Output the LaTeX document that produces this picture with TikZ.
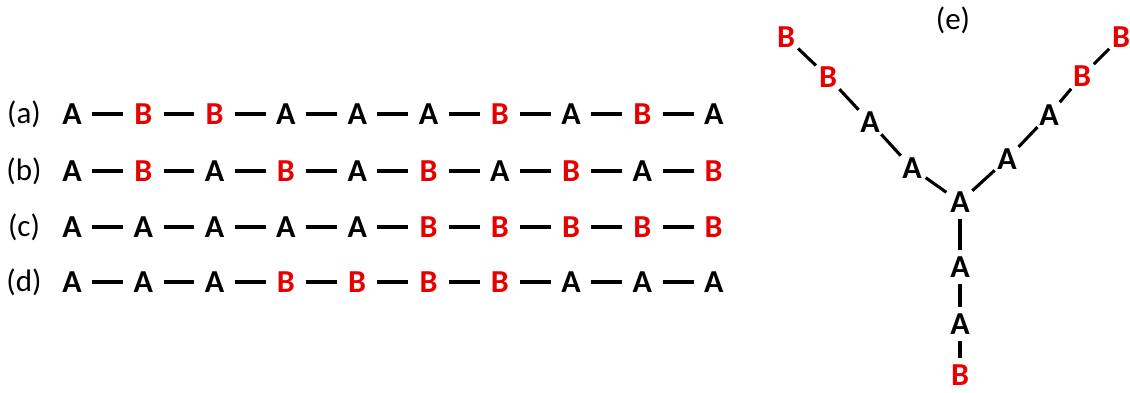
\documentclass[tikz,border=0pt]{standalone}
\usepackage{fontspec}
\setmainfont{Carlito}
\usepackage{xcolor}
\usepackage{tikz}
\usetikzlibrary{calc,positioning}
\definecolor{bred}{RGB}{232,0,0}
\colorlet{cA}{black}
\colorlet{cB}{bred}

\begin{document}
\begin{tikzpicture}[x=1pt, y=-1pt,
  unit/.style={circle, inner sep=0pt, minimum size=40pt, font=\fontsize{32}{36}\selectfont\bfseries},
  tunit/.style={unit, minimum size=33pt},
  bond/.style={line width=3.1pt},
  lbl/.style={font=\fontsize{31}{36}\selectfont}
]
\useasboundingbox (0,0) rectangle (1130,392);
% ---- (a)-(d) linear chains
\foreach \r/\y/\seq in {a/114/{A,B,B,A,A,A,B,A,B,A}, b/171/{A,B,A,B,A,B,A,B,A,B},
                        c/227/{A,A,A,A,A,B,B,B,B,B}, d/282/{A,A,A,B,B,B,B,A,A,A}} {
  \node[lbl] (\r0) at (24,\y) {(\r)};
  \foreach \m [count=\i] in \seq { \node[unit, text=c\m] (\r\i) at ({72+71.3*(\i-1)},\y) {\m}; }
  \foreach \i [evaluate=\i as \j using int(\i+1)] in {1,...,9} { \draw[bond] (\r\i) -- (\r\j); }
}
% ---- (e) star
\node[lbl] (e0) at (953,20) {(e)};
\node[tunit, text=cA] (core) at (960,202) {A};
\node[tunit, text=cA] (l1) at (912,168) {A};
\node[tunit, text=cA] (l2) at (870,122) {A};
\node[tunit, text=cB] (l3) at (828,77) {B};
\node[tunit, text=cB] (l4) at (786,37) {B};
\node[tunit, text=cA] (r1) at (1007,159) {A};
\node[tunit, text=cA] (r2) at (1049,115) {A};
\node[tunit, text=cB] (r3) at (1082,76) {B};
\node[tunit, text=cB] (r4) at (1121,37) {B};
\node[tunit, text=cA] (d1) at (960,267) {A};
\node[tunit, text=cA] (d2) at (960,324) {A};
\node[tunit, text=cB] (d3) at (960,375) {B};
\draw[bond] (core) -- (l1) (l1) -- (l2) (l2) -- (l3) (l3) -- (l4);
\draw[bond] (core) -- (r1) (r1) -- (r2) (r2) -- (r3) (r3) -- (r4);
\draw[bond] (core) -- (d1) (d1) -- (d2) (d2) -- (d3);
\end{tikzpicture}
\end{document}
